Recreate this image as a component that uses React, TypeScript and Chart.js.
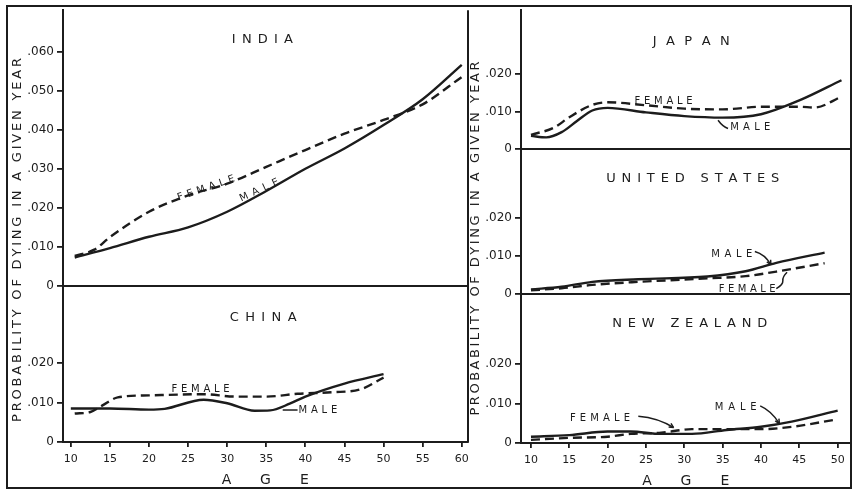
import React, { useEffect, useRef } from "react";
import { Chart, registerables } from "chart.js";

Chart.register(...registerables);

const INK = "#1c1c1c";
const FONT = "'DejaVu Sans', 'Liberation Sans', sans-serif";

// ---------- data: ages (years) and probability of dying in a given year ----------
const indiaMaleAges = [10.5, 15, 20, 25, 30, 35, 40, 45, 50, 55, 60];
const indiaMaleRates = [0.0073, 0.0097, 0.0126, 0.015, 0.019, 0.0243, 0.03, 0.0352, 0.0412, 0.0478, 0.0566];
const indiaFemaleAges = [10.5, 13, 15, 20, 25, 30, 35, 40, 45, 50, 55, 60];
const indiaFemaleRates = [0.0077, 0.0093, 0.0125, 0.019, 0.0232, 0.0262, 0.0305, 0.0348, 0.039, 0.0425, 0.0465, 0.0535];

const chinaMaleAges = [10, 15, 20, 22, 27, 30, 33.5, 35.5, 38, 40, 45, 50];
const chinaMaleRates = [0.0085, 0.0085, 0.0082, 0.0084, 0.0107, 0.0098, 0.0079, 0.008, 0.0097, 0.0115, 0.0148, 0.0172];
const chinaFemaleAges = [10.5, 12.5, 14, 16, 20, 27, 31, 35, 39, 43.5, 47, 50];
const chinaFemaleRates = [0.0072, 0.0076, 0.0092, 0.0113, 0.0118, 0.0121, 0.0115, 0.0115, 0.0122, 0.0126, 0.0133, 0.0163];

const japanMaleAges = [10, 12, 14, 16, 18, 20, 25, 30, 35, 40, 45, 50.5];
const japanMaleRates = [0.0035, 0.0031, 0.0045, 0.0075, 0.0103, 0.011, 0.0098, 0.0088, 0.0084, 0.0093, 0.013, 0.0184];
const japanFemaleAges = [10, 13, 15, 18, 20, 25, 30, 35, 40, 45, 47, 50.5];
const japanFemaleRates = [0.0038, 0.0057, 0.0085, 0.0118, 0.0125, 0.0117, 0.0108, 0.0106, 0.0113, 0.0113, 0.0111, 0.014];

const usMaleAges = [10, 14, 18, 24, 33, 38, 42, 48.3];
const usMaleRates = [0.0012, 0.0019, 0.0032, 0.0039, 0.0046, 0.006, 0.0082, 0.0109];
const usFemaleAges = [10, 14, 18, 24, 33, 38, 42, 48.3];
const usFemaleRates = [0.001, 0.0015, 0.0024, 0.0032, 0.0041, 0.0047, 0.0059, 0.0081];

const nzMaleAges = [10, 15, 20, 23, 27, 31, 35.5, 40, 44, 50];
const nzMaleRates = [0.0016, 0.002, 0.0029, 0.0029, 0.0023, 0.0023, 0.0033, 0.0041, 0.0054, 0.0082];
const nzFemaleAges = [10, 15, 20, 23, 27, 31, 35.5, 40, 44, 50];
const nzFemaleRates = [0.0008, 0.0013, 0.0016, 0.0023, 0.0026, 0.0035, 0.0035, 0.0035, 0.0041, 0.006];

// ---------- tick labels ----------
const leftAgeTicks = [10, 15, 20, 25, 30, 35, 40, 45, 50, 55, 60];
const rightAgeTicks = [10, 15, 20, 25, 30, 35, 40, 45, 50];
const indiaRateTicks = [0, 0.01, 0.02, 0.03, 0.04, 0.05, 0.06];
const smallRateTicks = [0, 0.01, 0.02];

const Y_TITLE = "PROBABILITY OF DYING IN A GIVEN YEAR";
const X_TITLE = "AGE";

// ---------- layout ----------
const W = 856;
const H = 490;
const Y_AXIS_W = 56;
const X_AXIS_H = 46;
const FRAME = { left: 7, top: 6, right: 851, bottom: 488 };

type Note = {
  text: string;
  age: number;
  rate: number;
  width: number;
  angle?: number;
  leader?: [number, number][];
  arrow?: boolean;
};

type Panel = {
  key: string;
  title: Note;
  area: { left: number; top: number; right: number; bottom: number };
  xMin: number;
  xMax: number;
  yMax: number;
  xTicks: number[];
  yTicks: number[];
  showX: boolean;
  maleAges: number[];
  maleRates: number[];
  femaleAges: number[];
  femaleRates: number[];
  notes: Note[];
  drawFrame?: boolean;
  yTitle?: { cy: number; span: number };
};

const panels: Panel[] = [
  {
    key: "india",
    title: { text: "INDIA", age: 34.5, rate: 0.063, width: 61 },
    area: { left: 63, top: 6, right: 468, bottom: 286 },
    xMin: 9.0, xMax: 60.8, yMax: 0.0706,
    xTicks: leftAgeTicks, yTicks: indiaRateTicks, showX: false,
    maleAges: indiaMaleAges, maleRates: indiaMaleRates,
    femaleAges: indiaFemaleAges, femaleRates: indiaFemaleRates,
    notes: [
      { text: "FEMALE", age: 27.3, rate: 0.025, width: 60, angle: -19 },
      { text: "MALE", age: 34.1, rate: 0.0245, width: 42, angle: -25 },
    ],
    drawFrame: true,
    yTitle: { cy: 240, span: 364 },
  },
  {
    key: "china",
    title: { text: "CHINA", age: 34.6, rate: 0.0316, width: 67 },
    area: { left: 63, top: 286, right: 468, bottom: 442 },
    xMin: 9.0, xMax: 60.8, yMax: 0.0395,
    xTicks: leftAgeTicks, yTicks: smallRateTicks, showX: true,
    maleAges: chinaMaleAges, maleRates: chinaMaleRates,
    femaleAges: chinaFemaleAges, femaleRates: chinaFemaleRates,
    notes: [
      { text: "FEMALE", age: 26.6, rate: 0.0134, width: 58 },
      { text: "MALE", age: 41.6, rate: 0.0081, width: 39, leader: [[37.1, 0.0081], [39.0, 0.0081]] },
    ],
  },
  {
    key: "japan",
    title: { text: "JAPAN", age: 30.9, rate: 0.0288, width: 77 },
    area: { left: 521, top: 6, right: 851, bottom: 149 },
    xMin: 8.7, xMax: 51.74, yMax: 0.03714,
    xTicks: rightAgeTicks, yTicks: smallRateTicks, showX: false,
    maleAges: japanMaleAges, maleRates: japanMaleRates,
    femaleAges: japanFemaleAges, femaleRates: japanFemaleRates,
    notes: [
      { text: "FEMALE", age: 27.3, rate: 0.0127, width: 58 },
      { text: "MALE", age: 38.6, rate: 0.0057, width: 40, leader: [[34.4, 0.0077], [35.0, 0.006], [35.7, 0.0055]] },
    ],
    yTitle: { cy: 238.5, span: 354 },
  },
  {
    key: "us",
    title: { text: "UNITED STATES", age: 31.1, rate: 0.0303, width: 173 },
    area: { left: 521, top: 149, right: 851, bottom: 294 },
    xMin: 8.7, xMax: 51.74, yMax: 0.03816,
    xTicks: rightAgeTicks, yTicks: smallRateTicks, showX: false,
    maleAges: usMaleAges, maleRates: usMaleRates,
    femaleAges: usFemaleAges, femaleRates: usFemaleRates,
    notes: [
      { text: "MALE", age: 36.2, rate: 0.0105, width: 41, leader: [[39.2, 0.0112], [40.5, 0.0105], [41.3, 0.0077]], arrow: true },
      { text: "FEMALE", age: 38.2, rate: 0.0013, width: 57, leader: [[42.0, 0.0014], [42.9, 0.0025], [42.8, 0.0045], [43.4, 0.0057]] },
    ],
  },
  {
    key: "nz",
    title: { text: "NEW ZEALAND", age: 30.7, rate: 0.0301, width: 155 },
    area: { left: 521, top: 294, right: 851, bottom: 443 },
    xMin: 8.7, xMax: 51.74, yMax: 0.03772,
    xTicks: rightAgeTicks, yTicks: smallRateTicks, showX: true,
    maleAges: nzMaleAges, maleRates: nzMaleRates,
    femaleAges: nzFemaleAges, femaleRates: nzFemaleRates,
    notes: [
      { text: "FEMALE", age: 19.0, rate: 0.0063, width: 60, leader: [[24.0, 0.0068], [26.6, 0.0064], [28.6, 0.0039]], arrow: true },
      { text: "MALE", age: 36.7, rate: 0.0089, width: 42, leader: [[39.9, 0.0094], [41.4, 0.0081], [42.4, 0.0049]], arrow: true },
    ],
  },
];

function fmtRate(v: number): string {
  if (Math.abs(v) < 1e-9) return "0";
  return "." + String(Math.round(v * 1000)).padStart(3, "0");
}

function drawSpaced(
  ctx: CanvasRenderingContext2D,
  text: string,
  cx: number,
  cy: number,
  font: string,
  width: number,
  angle = 0
) {
  ctx.save();
  ctx.font = font;
  const chars = Array.from(text);
  const widths = chars.map((c) => ctx.measureText(c).width);
  const natural = widths.reduce((a, b) => a + b, 0);
  const spacing = chars.length > 1 ? (width - natural) / (chars.length - 1) : 0;
  const total = natural + spacing * (chars.length - 1);
  ctx.translate(cx, cy);
  ctx.rotate((angle * Math.PI) / 180);
  ctx.textBaseline = "middle";
  ctx.textAlign = "left";
  let x = -total / 2;
  chars.forEach((c, i) => {
    ctx.fillText(c, x, 0);
    x += widths[i] + spacing;
  });
  ctx.restore();
}

function makePlugin(p: Panel) {
  return {
    id: "panelDecor_" + p.key,
    afterDraw(chart: any) {
      const { ctx, chartArea: a, scales } = chart;
      const px = (v: number) => scales.x.getPixelForValue(v);
      const py = (v: number) => scales.y.getPixelForValue(v);
      ctx.save();
      ctx.strokeStyle = INK;
      ctx.fillStyle = INK;
      ctx.lineWidth = 2;
      ctx.lineCap = "butt";

      // right edge and panel separator
      ctx.beginPath();
      ctx.moveTo(a.right, a.top);
      ctx.lineTo(a.right, a.bottom);
      if (!p.showX) {
        ctx.moveTo(a.left, a.bottom);
        ctx.lineTo(a.right, a.bottom);
      }
      ctx.stroke();

      if (p.drawFrame) {
        ctx.strokeRect(FRAME.left, FRAME.top, FRAME.right - FRAME.left, FRAME.bottom - FRAME.top);
      }

      // y title for the column
      if (p.yTitle) {
        drawSpaced(ctx, Y_TITLE, a.left - 45, p.yTitle.cy, `13px ${FONT}`, p.yTitle.span, -90);
      }

      // x title
      if (p.showX) {
        const cx = (a.left + a.right) / 2;
        ctx.font = `14px ${FONT}`;
        ctx.textAlign = "center";
        ctx.textBaseline = "middle";
        Array.from(X_TITLE).forEach((c, i) => {
          ctx.fillText(c, cx + (i - 1) * 39, a.bottom + 38);
        });
      }

      // panel title
      drawSpaced(ctx, p.title.text, px(p.title.age), py(p.title.rate), `13px ${FONT}`, p.title.width);

      // notes
      p.notes.forEach((n) => {
        drawSpaced(ctx, n.text, px(n.age), py(n.rate), `10px ${FONT}`, n.width, n.angle || 0);
        if (n.leader) {
          const pts = n.leader.map(([ag, r]) => [px(ag), py(r)]);
          ctx.lineWidth = 1.5;
          ctx.lineJoin = "round";
          ctx.beginPath();
          ctx.moveTo(pts[0][0], pts[0][1]);
          if (pts.length === 2) {
            ctx.lineTo(pts[1][0], pts[1][1]);
          } else {
            for (let i = 1; i < pts.length - 1; i++) {
              const mx = (pts[i][0] + pts[i + 1][0]) / 2;
              const my = (pts[i][1] + pts[i + 1][1]) / 2;
              ctx.quadraticCurveTo(pts[i][0], pts[i][1], i === pts.length - 2 ? pts[i + 1][0] : mx, i === pts.length - 2 ? pts[i + 1][1] : my);
            }
          }
          ctx.stroke();
          if (n.arrow) {
            const e = pts[pts.length - 1];
            const s = pts[pts.length - 2];
            const ang = Math.atan2(e[1] - s[1], e[0] - s[0]);
            const L = 5;
            ctx.beginPath();
            ctx.moveTo(e[0], e[1]);
            ctx.lineTo(e[0] - L * Math.cos(ang - 0.45), e[1] - L * Math.sin(ang - 0.45));
            ctx.moveTo(e[0], e[1]);
            ctx.lineTo(e[0] - L * Math.cos(ang + 0.45), e[1] - L * Math.sin(ang + 0.45));
            ctx.stroke();
          }
          ctx.lineWidth = 2;
        }
      });
      ctx.restore();
    },
  };
}

function zip(xs: number[], ys: number[]) {
  return xs.map((x, i) => ({ x, y: ys[i] }));
}

function makeConfig(p: Panel): any {
  const padding = {
    left: p.area.left - Y_AXIS_W,
    top: p.area.top,
    right: W - p.area.right,
    bottom: H - p.area.bottom - (p.showX ? X_AXIS_H : 0),
  };
  return {
    type: "line",
    data: {
      datasets: [
        {
          label: "Male",
          data: zip(p.maleAges, p.maleRates),
          borderColor: INK,
          borderWidth: 2.4,
          pointRadius: 0,
          fill: false,
          cubicInterpolationMode: "monotone",
        },
        {
          label: "Female",
          data: zip(p.femaleAges, p.femaleRates),
          borderColor: INK,
          borderWidth: 2.4,
          borderDash: [9, 5],
          pointRadius: 0,
          fill: false,
          cubicInterpolationMode: "monotone",
        },
      ],
    },
    options: {
      responsive: false,
      animation: false,
      events: [],
      layout: { padding },
      plugins: {
        legend: { display: false },
        tooltip: { enabled: false },
        title: { display: false },
      },
      scales: {
        x: {
          type: "linear",
          min: p.xMin,
          max: p.xMax,
          display: p.showX,
          afterBuildTicks: (s: any) => {
            s.ticks = p.xTicks.map((v) => ({ value: v }));
          },
          afterFit: (s: any) => {
            s.height = p.showX ? X_AXIS_H : 0;
          },
          grid: { drawOnChartArea: false, tickLength: 5, color: INK, lineWidth: 1.8 },
          border: { display: true, color: INK, width: 2 },
          ticks: {
            color: INK,
            font: { family: FONT, size: 11 },
            padding: 6,
            maxRotation: 0,
            autoSkip: false,
          },
        },
        y: {
          type: "linear",
          min: 0,
          max: p.yMax,
          afterBuildTicks: (s: any) => {
            s.ticks = p.yTicks.map((v) => ({ value: v }));
          },
          afterFit: (s: any) => {
            s.width = Y_AXIS_W;
          },
          grid: { drawOnChartArea: false, tickLength: 6, color: INK, lineWidth: 1.8 },
          border: { display: true, color: INK, width: 2 },
          ticks: {
            color: INK,
            font: { family: FONT, size: 12 },
            padding: 3,
            autoSkip: false,
            callback: (v: number) => fmtRate(v),
          },
        },
      },
    },
    plugins: [makePlugin(p)],
  };
}

function PanelChart({ panel }: { panel: Panel }) {
  const ref = useRef<HTMLCanvasElement>(null);
  useEffect(() => {
    if (!ref.current) return;
    const chart = new Chart(ref.current, makeConfig(panel));
    return () => chart.destroy();
  }, [panel]);
  return (
    <canvas
      ref={ref}
      width={W}
      height={H}
      style={{ position: "absolute", left: 0, top: 0, width: W, height: H }}
    />
  );
}

export default function App() {
  return (
    <div style={{ position: "absolute", left: 0, top: 0, width: W, height: H, background: "#fff", overflow: "hidden" }}>
      {panels.map((p) => (
        <PanelChart key={p.key} panel={p} />
      ))}
    </div>
  );
}
